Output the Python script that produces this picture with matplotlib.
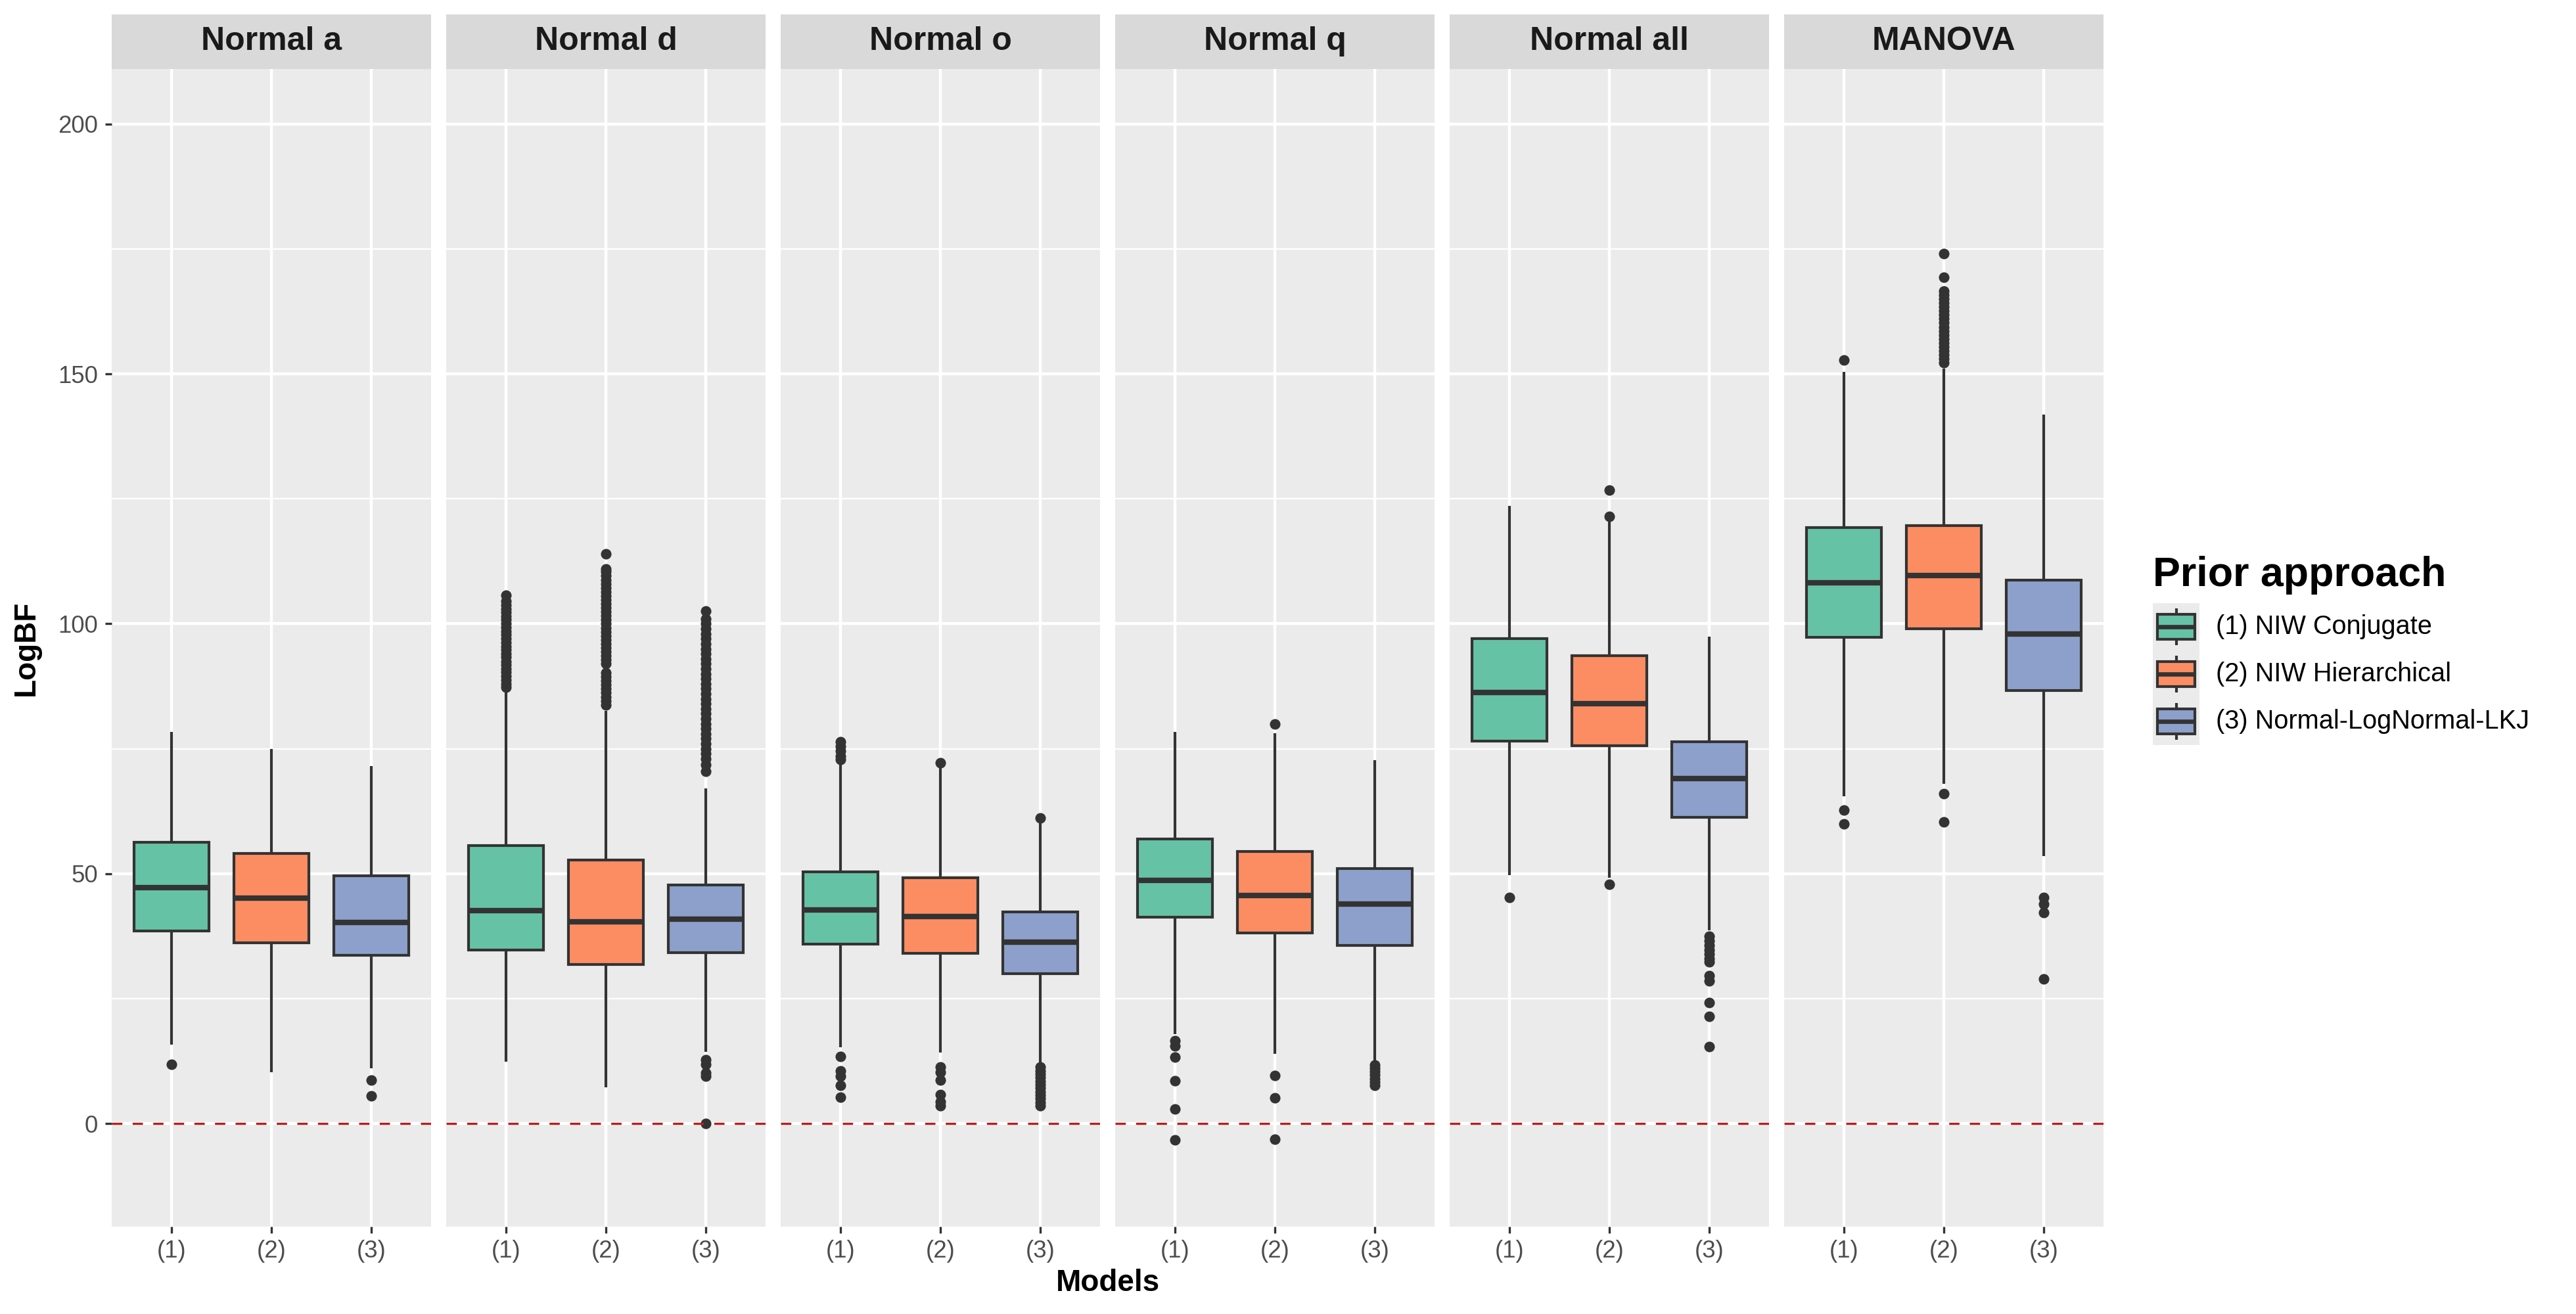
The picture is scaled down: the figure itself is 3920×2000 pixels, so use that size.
import matplotlib
matplotlib.use("Agg")
import matplotlib.pyplot as plt
from matplotlib.patches import Rectangle

plt.rcParams['font.family'] = ['Liberation Sans', 'DejaVu Sans']

# ---------------- data ----------------
panels = ["Normal a", "Normal d", "Normal o", "Normal q", "Normal all", "MANOVA"]
models = ["(1)", "(2)", "(3)"]
legend_title = "Prior approach"
legend_labels = ["(1) NIW Conjugate", "(2) NIW Hierarchical", "(3) Normal-LogNormal-LKJ"]
fill_colors = ["#66C2A5", "#FC8D62", "#8DA0CB"]

whislo = [[15.8, 10.3, 11.1],
          [12.4, 7.3, 14.4],
          [15.3, 14.2, 12.0],
          [17.9, 14.0, 12.4],
          [49.7, 49.2, 38.7],
          [65.5, 68.0, 53.5]]
q1 = [[38.6, 36.2, 33.7],
      [34.8, 31.9, 34.2],
      [35.9, 34.1, 30.0],
      [41.3, 38.1, 35.7],
      [76.6, 75.6, 61.3],
      [97.3, 99.0, 86.7]]
med = [[47.2, 45.1, 40.3],
       [42.6, 40.4, 40.9],
       [42.8, 41.5, 36.3],
       [48.7, 45.6, 43.9],
       [86.2, 84.0, 69.1],
       [108.2, 109.6, 97.9]]
q3 = [[56.3, 54.1, 49.6],
      [55.7, 52.8, 47.8],
      [50.4, 49.2, 42.3],
      [56.9, 54.5, 51.0],
      [97.0, 93.6, 76.4],
      [119.3, 119.6, 108.8]]
whishi = [[78.4, 74.9, 71.6],
          [86.4, 82.6, 67.1],
          [71.8, 71.3, 60.1],
          [78.4, 78.1, 72.7],
          [123.6, 120.5, 97.5],
          [150.4, 151.0, 141.8]]
fliers = [
    # Normal a
    [[11.9],
     [],
     [8.7, 5.6]],
    # Normal d
    [[87.3, 88.0, 88.8, 89.5, 90.3, 91.0, 91.8, 92.5, 93.3, 94.0, 94.8, 95.5,
      96.3, 97.0, 97.8, 98.5, 99.3, 100.0, 100.8, 101.5, 102.3, 103.0, 103.8,
      104.5, 105.7],
     [83.8, 84.6, 85.4, 86.2, 87.0, 87.8, 88.6, 89.4, 90.2, 92.0, 92.8, 93.6,
      94.4, 95.2, 96.0, 96.8, 97.6, 98.4, 99.2, 100.0, 100.8, 101.6, 102.4,
      103.2, 104.0, 104.8, 105.6, 106.4, 107.2, 108.0, 108.8, 109.6, 110.4,
      111.0, 114.0],
     [70.5, 71.8, 73.0, 74.0, 75.0, 76.0, 77.0, 78.0, 79.0, 80.0, 81.0, 82.0,
      83.0, 84.0, 85.0, 86.0, 87.0, 88.0, 89.0, 90.0, 91.0, 92.0, 93.0, 94.0,
      95.0, 96.0, 97.0, 98.0, 99.0, 100.0, 101.0, 102.6,
      12.8, 11.9, 10.1, 9.5, 0.0]],
    # Normal o
    [[72.8, 73.5, 74.5, 75.5, 76.4, 13.4, 10.6, 9.5, 7.7, 5.3],
     [72.2, 11.4, 10.3, 8.7, 5.8, 4.4, 3.6],
     [61.1, 11.3, 10.6, 9.9, 9.2, 8.5, 7.8, 7.1, 6.4, 5.7, 5.0, 4.3, 3.6]],
    # Normal q
    [[16.6, 15.5, 13.3, 8.6, 2.9, -3.3],
     [80.0, 9.6, 5.2, -3.1],
     [11.8, 11.1, 10.4, 9.7, 9.0, 8.3, 7.6]],
    # Normal all
    [[45.3],
     [121.5, 126.7, 47.9],
     [37.5, 36.6, 35.7, 34.8, 33.9, 33.0, 32.4, 29.6, 28.6, 24.2, 21.5, 15.4]],
    # MANOVA
    [[152.8, 62.7, 60.0],
     [152.2, 153.0, 153.8, 154.6, 155.4, 156.2, 157.0, 157.8, 158.6, 159.4,
      160.2, 161.0, 161.8, 162.6, 163.4, 164.2, 165.0, 165.8, 166.6, 169.3,
      174.1, 66.0, 60.4],
     [45.2, 44.0, 42.2, 29.0]],
]
y_ticks = [0, 50, 100, 150, 200]
y_minor = [25, 75, 125, 175]
ref_line = 0

# ---------------- layout / style ----------------
W, H = 3920, 2000
DPI = 200
fig = plt.figure(figsize=(W / DPI, H / DPI), dpi=DPI)

EDGE = "#333333"
PANEL_BG = "#EBEBEB"
STRIP_BG = "#D9D9D9"
LW = 1.5
px_left0, px_w, px_step = 170, 486, 509
px_top, px_bot, px_strip_top = 105, 1867, 22

for i, name in enumerate(panels):
    left = (px_left0 + i * px_step) / W
    ax = fig.add_axes([left, 1 - px_bot / H, px_w / W, (px_bot - px_top) / H])
    ax.set_facecolor(PANEL_BG)
    for s in ax.spines.values():
        s.set_visible(False)
    ax.set_xlim(0.4, 3.6)
    ax.set_ylim(-20.6, 211.0)

    # grid
    for y in y_minor:
        ax.axhline(y, color="white", lw=0.8, zorder=0.5)
    for y in y_ticks:
        ax.axhline(y, color="white", lw=1.6, zorder=0.6)
    for x in range(1, len(models) + 1):
        ax.axvline(x, color="white", lw=1.6, zorder=0.6)

    stats = []
    for j in range(len(models)):
        stats.append(dict(whislo=whislo[i][j], q1=q1[i][j], med=med[i][j],
                          q3=q3[i][j], whishi=whishi[i][j], fliers=fliers[i][j]))
    bp = ax.bxp(stats, positions=[1, 2, 3], widths=0.75, patch_artist=True,
                showcaps=False,
                boxprops=dict(edgecolor=EDGE, linewidth=LW),
                medianprops=dict(color=EDGE, linewidth=2 * LW, solid_capstyle="butt"),
                whiskerprops=dict(color=EDGE, linewidth=LW, solid_capstyle="butt"),
                flierprops=dict(marker="o", markersize=5.8, markerfacecolor=EDGE,
                                markeredgecolor="none", linestyle="none"),
                manage_ticks=False, zorder=2)
    for patch, c in zip(bp["boxes"], fill_colors):
        patch.set_facecolor(c)

    ax.axhline(ref_line, color="#B22222", lw=1.2, ls=(0, (4.7, 4.7)), zorder=3)

    ax.set_xticks([1, 2, 3])
    ax.set_xticklabels(models)
    ax.tick_params(axis="x", length=3.6, width=1.2, color=EDGE, pad=3.5,
                   labelsize=13.2, labelcolor="#4D4D4D")
    if i == 0:
        ax.set_yticks(y_ticks)
        ax.set_yticklabels([str(t) for t in y_ticks])
        ax.tick_params(axis="y", length=3.6, width=1.2, color=EDGE, pad=4,
                       labelsize=13.2, labelcolor="#4D4D4D")
    else:
        ax.set_yticks([])
    ax.minorticks_off()

    # strip
    sax = fig.add_axes([left, 1 - px_top / H, px_w / W, (px_top - px_strip_top) / H])
    sax.set_facecolor(STRIP_BG)
    sax.set_xticks([]); sax.set_yticks([])
    for s in sax.spines.values():
        s.set_visible(False)
    sax.text(0.5, 0.5, name, ha="center", va="center", fontsize=18,
             fontweight="bold", color="#1A1A1A", transform=sax.transAxes)

# axis titles
fig.text((px_left0 + (px_left0 + 5 * px_step + px_w)) / 2 / W, 1 - 1953 / H, "Models",
         ha="center", va="center", fontsize=16.5, fontweight="bold", color="black")
fig.text(40 / W, 1 - 986 / H, "LogBF", ha="center", va="center", rotation=90,
         fontsize=16.5, fontweight="bold", color="black")

# legend
lx0, lx1, ly0, ly1 = 3276, 3347, 918, 1134
lax = fig.add_axes([lx0 / W, 1 - ly1 / H, (lx1 - lx0) / W, (ly1 - ly0) / H])
lax.set_facecolor(PANEL_BG)
lax.set_xlim(0, 1)
lax.set_ylim(0, 3)
lax.set_xticks([]); lax.set_yticks([])
for s in lax.spines.values():
    s.set_visible(False)
n = len(legend_labels)
for k in range(n):
    cy = n - 0.5 - k
    lax.plot([0.5, 0.5], [cy - 0.39, cy + 0.39], color=EDGE, lw=LW,
             solid_capstyle="butt", zorder=1)
    lax.add_patch(Rectangle((0.1, cy - 0.257), 0.8, 0.514, facecolor=fill_colors[k],
                            edgecolor=EDGE, lw=LW, zorder=2))
    lax.plot([0.1, 0.9], [cy, cy], color=EDGE, lw=2.4, solid_capstyle="butt", zorder=3)
    fig.text(3372 / W, 1 - (ly0 + (k + 0.5) * (ly1 - ly0) / n) / H, legend_labels[k],
             ha="left", va="center", fontsize=14.3, color="black")
fig.text(lx0 / W, 1 - 892 / H, legend_title, ha="left", va="baseline",
         fontsize=22.6, fontweight="bold", color="black")

fig.savefig("out.png", dpi=DPI, facecolor="white")
